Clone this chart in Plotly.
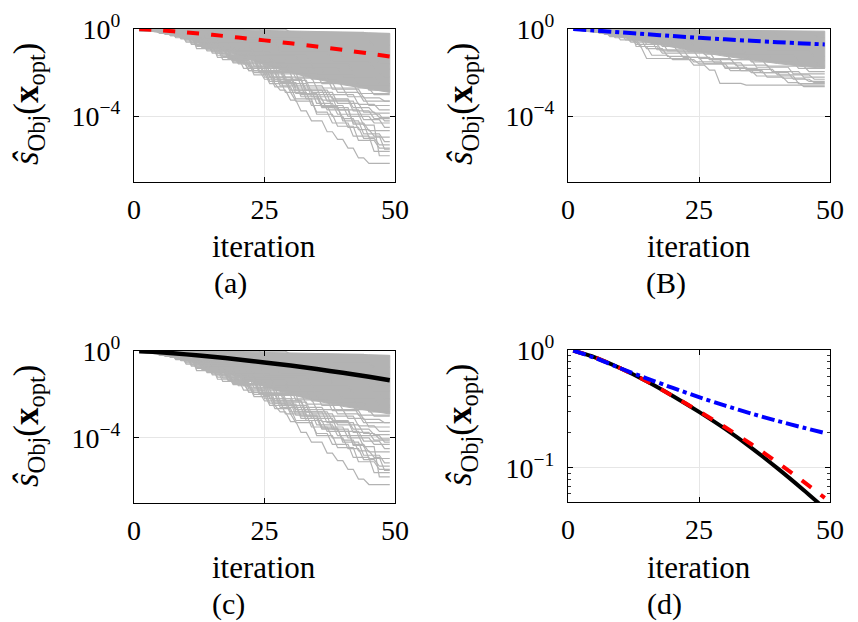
import plotly.graph_objects as go

# ---------------- data (values stored as log10 of s_Obj) ----------------
iterations_mean = [1, 5, 10, 15, 20, 25, 30, 35, 40, 45, 49]
mean_a_log10 = [-0.005, -0.06, -0.155, -0.265, -0.39, -0.52, -0.655, -0.80, -0.955, -1.12, -1.255]
mean_b_log10 = [-0.005, -0.065, -0.155, -0.24, -0.322, -0.40, -0.472, -0.54, -0.602, -0.66, -0.705]
mean_c_log10 = [-0.005, -0.06, -0.155, -0.265, -0.39, -0.525, -0.67, -0.83, -1.005, -1.19, -1.345]

# dense part of the run ensemble (envelope), dataset A (panels a, c)
band_a_iter = [1, 5, 8, 11, 14, 17, 20, 23, 26, 30, 35, 40, 45, 49]
band_a_upper = [0.0, 0.0, -0.005, -0.01, -0.02, -0.03, -0.04, -0.05, -0.07, -0.09, -0.11, -0.14, -0.17, -0.2]
band_a_lower = [-0.06, -0.15, -0.3, -0.5, -0.72, -0.95, -1.2, -1.45, -1.72, -2.0, -2.3, -2.55, -2.75, -2.9]

# individual runs, dataset A: [iteration, log10 value] step breakpoints
runs_a = [
    [[1, -0.05], [4, -0.12], [8, -0.35], [12, -0.8], [16, -1.2], [20, -1.6], [23, -2.0], [26, -2.5], [28, -2.8], [30, -3.25], [32, -3.75], [34, -4.2], [37, -4.7], [39, -5.05], [41, -5.45], [43, -5.9], [45, -6.15]],
    [[1, -0.08], [5, -0.2], [10, -0.6], [14, -1.0], [19, -1.5], [22, -1.9], [25, -2.3], [29, -2.9], [31, -3.3], [35, -3.8], [38, -4.3], [42, -4.9], [46, -5.6]],
    [[1, -0.03], [5, -0.2], [11, -0.7], [16, -1.3], [21, -1.8], [26, -2.4], [30, -2.9], [34, -3.5], [38, -4.0], [41, -4.5], [44, -5.0], [47, -5.3]],
    [[1, -0.1], [6, -0.25], [12, -0.9], [17, -1.4], [22, -1.9], [27, -2.5], [32, -3.1], [36, -3.6], [40, -4.1], [43, -4.6], [46, -4.9], [48, -5.5]],
    [[1, -0.02], [7, -0.3], [13, -0.85], [18, -1.35], [24, -2.0], [28, -2.6], [33, -3.2], [37, -3.7], [42, -4.3], [45, -4.65]],
    [[1, -0.06], [6, -0.2], [11, -0.65], [15, -1.05], [20, -1.55], [25, -2.2], [30, -2.8], [35, -3.4], [39, -3.9], [44, -4.4], [47, -5.8]],
    [[1, -0.04], [8, -0.4], [14, -0.95], [19, -1.45], [23, -1.9], [27, -2.4], [31, -2.95], [36, -3.5], [41, -4.0], [46, -4.3]],
    [[1, -0.07], [9, -0.45], [15, -1.0], [21, -1.6], [26, -2.2], [31, -2.8], [37, -3.3], [43, -3.9], [48, -4.2]],
    [[1, -0.02], [7, -0.25], [13, -0.75], [18, -1.2], [24, -1.8], [29, -2.35], [34, -2.9], [39, -3.4], [44, -3.8], [47, -4.05]],
    [[1, -0.05], [10, -0.5], [16, -1.1], [22, -1.7], [28, -2.3], [33, -2.8], [38, -3.2], [42, -3.6], [46, -3.85]],
    [[1, -0.03], [8, -0.3], [14, -0.85], [20, -1.4], [26, -2.0], [32, -2.6], [37, -3.0], [43, -3.45], [47, -3.7]],
    [[1, -0.09], [11, -0.6], [17, -1.15], [23, -1.7], [29, -2.2], [35, -2.7], [41, -3.1], [45, -3.5]],
    [[1, -0.01], [9, -0.35], [15, -0.9], [21, -1.4], [27, -1.95], [33, -2.45], [39, -2.9], [44, -3.3]],
    [[1, -0.04], [12, -0.7], [18, -1.2], [25, -1.75], [31, -2.25], [38, -2.75], [44, -3.15], [48, -3.3]],
    [[1, -0.06], [10, -0.45], [17, -1.0], [24, -1.55], [30, -2.05], [36, -2.5], [43, -2.95]],
    [[1, -0.02], [13, -0.75], [20, -1.3], [27, -1.8], [34, -2.3], [40, -2.7], [46, -3.0]],
    [[1, -0.05], [14, -0.7], [22, -1.3], [30, -1.85], [37, -2.35], [45, -2.8]],
    [[1, -0.03], [12, -0.55], [19, -1.05], [27, -1.6], [35, -2.1], [43, -2.6]],
    [[1, -0.02], [15, -0.7], [23, -1.2], [32, -1.75], [40, -2.2], [47, -2.5]],
    [[1, -0.04], [16, -0.6], [25, -1.15], [34, -1.6], [42, -2.0], [48, -2.2]],
    [[1, -0.01], [18, -0.55], [28, -1.05], [38, -1.5], [46, -1.85]],
    [[1, -0.03], [20, -0.5], [30, -0.9], [40, -1.3], [47, -1.6]],
    [[1, -0.02], [22, -0.4], [33, -0.75], [43, -1.05]],
    [[1, 0.0], [25, -0.3], [38, -0.55], [46, -0.75]],
    [[1, -0.01], [30, -0.15], [45, -0.25]],
    [[1, -0.05], [9, -0.4], [14, -0.9], [19, -1.4], [24, -1.95], [28, -2.45], [32, -3.0], [36, -3.55], [40, -4.2], [44, -4.8], [48, -5.15]],
    [[1, -0.07], [7, -0.3], [12, -0.75], [17, -1.25], [22, -1.75], [27, -2.3], [33, -3.0], [38, -3.6], [42, -4.35], [45, -4.95]],
    [[1, -0.04], [6, -0.22], [10, -0.55], [15, -1.1], [19, -1.55], [23, -2.1], [27, -2.65], [31, -3.2], [35, -3.9], [39, -4.45], [43, -5.1], [47, -5.45]],
    [[1, -0.03], [9, -0.42], [13, -0.8], [18, -1.3], [24, -1.9], [29, -2.5], [34, -3.1], [39, -3.7], [44, -4.15], [48, -4.5]],
    [[1, -0.06], [8, -0.35], [14, -0.9], [20, -1.5], [25, -2.05], [31, -2.7], [36, -3.25], [42, -3.75], [46, -4.1]],
]

# dataset B (panel B)
band_b_iter = [1, 5, 8, 11, 14, 17, 20, 25, 30, 35, 40, 45, 49]
band_b_upper = [0.0, 0.0, -0.005, -0.01, -0.015, -0.02, -0.03, -0.045, -0.06, -0.07, -0.085, -0.095, -0.1]
band_b_lower = [-0.04, -0.12, -0.25, -0.4, -0.55, -0.7, -0.85, -1.05, -1.25, -1.42, -1.58, -1.72, -1.8]

runs_b = [
    [[1, -0.05], [3, -0.1], [8, -0.35], [12, -0.6], [14, -0.85], [15, -1.35], [24, -1.65], [27, -1.88], [29, -2.49], [34, -2.57]],
    [[1, -0.03], [4, -0.12], [9, -0.4], [13, -0.7], [18, -1.0], [22, -1.3], [26, -1.6], [33, -1.9], [38, -2.2], [42, -2.45], [45, -2.64]],
    [[1, -0.06], [5, -0.15], [10, -0.5], [14, -0.8], [16, -1.2], [20, -1.4], [25, -1.6], [31, -1.9], [36, -2.15], [44, -2.5]],
    [[1, -0.02], [6, -0.2], [11, -0.5], [15, -0.9], [19, -1.25], [24, -1.5], [30, -1.75], [35, -2.0], [41, -2.25], [46, -2.4]],
    [[1, -0.04], [7, -0.25], [12, -0.55], [17, -0.95], [23, -1.3], [28, -1.55], [34, -1.85], [40, -2.1], [47, -2.3]],
    [[1, -0.03], [8, -0.3], [13, -0.6], [19, -1.0], [25, -1.35], [32, -1.65], [39, -1.95], [45, -2.2]],
    [[1, -0.05], [9, -0.3], [15, -0.7], [21, -1.05], [28, -1.4], [36, -1.75], [43, -2.05]],
    [[1, -0.02], [10, -0.35], [16, -0.7], [23, -1.05], [31, -1.4], [38, -1.7], [46, -1.95]],
    [[1, -0.04], [11, -0.4], [18, -0.8], [26, -1.15], [35, -1.5], [44, -1.8]],
    [[1, -0.01], [12, -0.35], [20, -0.75], [29, -1.1], [39, -1.45], [48, -1.7]],
    [[1, -0.03], [14, -0.4], [24, -0.8], [34, -1.15], [44, -1.45]],
    [[1, -0.02], [16, -0.35], [27, -0.7], [38, -1.0], [47, -1.25]],
    [[1, -0.01], [20, -0.3], [32, -0.55], [44, -0.8]],
    [[1, 0.0], [25, -0.15], [40, -0.3], [48, -0.4]],
    [[1, -0.02], [13, -0.8], [18, -1.1], [27, -1.4], [30, -1.8], [37, -2.0], [43, -2.3], [47, -2.45]],
]

last_iteration = 49
x_ticks = [0, 25, 50]
panel_labels = ["(a)", "(B)", "(c)", "(d)"]
x_title = "iteration"
y_title = "<i>ŝ</i><sub>Obj</sub>(<b>x</b><sub>opt</sub>)"

# ---------------- figure ----------------
W, H = 858, 622
GRAY = "#b3b3b3"
FONT = "Liberation Serif"
RED, BLUE, BLACK = "#ff0000", "#0000ff", "#000000"
RED_DASH = "12px,12px"
BLUE_DASH = "13px,4px,4px,4px"

fig = go.Figure()

def pw(v):
    return [10 ** e for e in v]

def step_xy(bps, last):
    xs, ys, prev = [], [], None
    for it, v in bps:
        if prev is not None:
            xs.append(it - 1); ys.append(10 ** prev)
        xs.append(it); ys.append(10 ** v)
        prev = v
    xs.append(last); ys.append(10 ** prev)
    return xs, ys

def add_ensemble(band_iter, upper, lower, runs, xa, ya):
    xs = list(band_iter) + list(band_iter)[::-1]
    ys = pw(upper) + pw(lower)[::-1]
    fig.add_trace(go.Scatter(x=xs, y=ys, mode="lines", fill="toself", fillcolor=GRAY,
                             line=dict(color=GRAY, width=1), xaxis=xa, yaxis=ya,
                             showlegend=False, hoverinfo="skip"))
    for r in runs:
        x, y = step_xy(r, last_iteration)
        fig.add_trace(go.Scatter(x=x, y=y, mode="lines", line=dict(color=GRAY, width=1.2),
                                 xaxis=xa, yaxis=ya, showlegend=False, hoverinfo="skip"))

def add_mean(vals, color, dash, width, xa, ya):
    fig.add_trace(go.Scatter(x=iterations_mean, y=pw(vals), mode="lines",
                             line=dict(color=color, dash=dash, width=width, shape="spline", smoothing=0.6),
                             xaxis=xa, yaxis=ya, showlegend=False))

add_ensemble(band_a_iter, band_a_upper, band_a_lower, runs_a, "x", "y")
add_mean(mean_a_log10, RED, RED_DASH, 4, "x", "y")
add_ensemble(band_b_iter, band_b_upper, band_b_lower, runs_b, "x2", "y2")
add_mean(mean_b_log10, BLUE, BLUE_DASH, 4, "x2", "y2")
add_ensemble(band_a_iter, band_a_upper, band_a_lower, runs_a, "x3", "y3")
add_mean(mean_c_log10, BLACK, "solid", 4.5, "x3", "y3")
add_mean(mean_c_log10, BLACK, "solid", 4, "x4", "y4")
add_mean(mean_a_log10, RED, RED_DASH, 4, "x4", "y4")
add_mean(mean_b_log10, BLUE, BLUE_DASH, 4, "x4", "y4")

# pixel geometry of the four panels: (left, right, top, bottom)
boxes = [(134, 395, 29, 182), (568, 830, 29, 182), (134, 395, 351, 503), (568, 830, 350, 502)]

common = dict(showline=True, linecolor="black", linewidth=1.3, mirror="ticks",
              ticks="inside", ticklen=5, tickcolor="black", tickwidth=1.2,
              showgrid=True, gridcolor="#e6e6e6", gridwidth=1, zeroline=False,
              automargin=False,
              tickfont=dict(family=FONT, size=28, color="black"))

layout = dict(template="none", width=W, height=H,
              margin=dict(l=0, r=0, t=0, b=0, autoexpand=False),
              plot_bgcolor="white", paper_bgcolor="white", showlegend=False,
              font=dict(family=FONT, color="black"))

for i, (l, r, t, b) in enumerate(boxes):
    sfx = "" if i == 0 else str(i + 1)
    xa = dict(common, domain=[l / W, r / W], range=[0, 50], tickvals=x_ticks,
              anchor="y" + sfx, ticklabelstandoff=2)
    if i < 3:
        ya = dict(common, domain=[1 - b / H, 1 - t / H], type="log", range=[-7, 0],
                  tickvals=[1e-4, 1], ticktext=["10<sup>−4</sup>", "10<sup>0</sup>"],
                  anchor="x" + sfx, ticklabelstandoff=7)
    else:
        ya = dict(common, domain=[1 - b / H, 1 - t / H], type="log", range=[-1.29, 0],
                  tickvals=[0.1, 1], ticktext=["10<sup>−1</sup>", "10<sup>0</sup>"],
                  anchor="x" + sfx, ticklabelstandoff=7,
                  minor=dict(tickvals=[0.05, 0.06, 0.07, 0.08, 0.09, 0.2, 0.3, 0.4, 0.5, 0.6, 0.7, 0.8, 0.9],
                             ticks="inside", ticklen=3, tickcolor="#333", showgrid=False))
    layout["xaxis" + sfx] = xa
    layout["yaxis" + sfx] = ya

fig.update_layout(**layout)

ann = []
title_pos = [(264, 246, 230, 283, 28, 104), (699, 246, 666, 283, 462, 104),
             (264, 567, 228, 604, 28, 426), (699, 567, 664, 604, 462, 425)]
for i, (xt, yt, xl, yl, xy, yy) in enumerate(title_pos):
    ann.append(dict(x=xt / W, y=1 - yt / H, xref="paper", yref="paper", text=x_title,
                    showarrow=False, xanchor="center", yanchor="middle",
                    font=dict(family=FONT, size=31, color="black")))
    ann.append(dict(x=xl / W, y=1 - yl / H, xref="paper", yref="paper", text=panel_labels[i],
                    showarrow=False, xanchor="center", yanchor="middle",
                    font=dict(family=FONT, size=30, color="black")))
    ann.append(dict(x=xy / W, y=1 - yy / H, xref="paper", yref="paper", text=y_title,
                    showarrow=False, xanchor="center", yanchor="middle", textangle=-90,
                    font=dict(family=FONT, size=35, color="black")))
fig.update_layout(annotations=ann)

fig.write_html("out.html", config={"displayModeBar": False},
               post_script="document.body.style.margin='0';document.body.style.padding='0';")
